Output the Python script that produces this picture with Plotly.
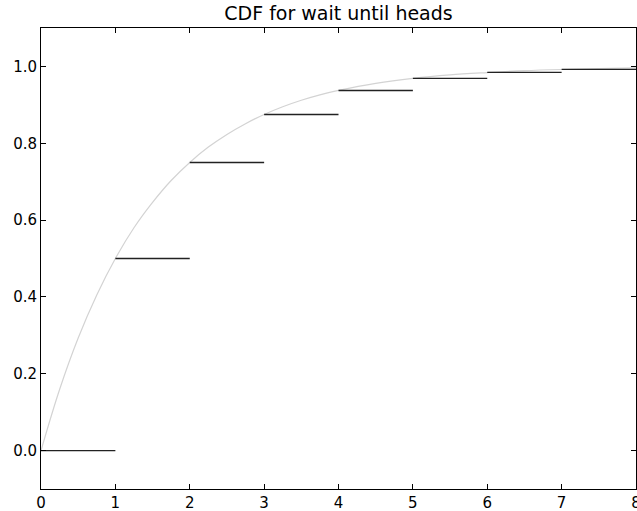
import plotly.graph_objects as go

# Step CDF (discrete) values
step_left = [0, 1, 2, 3, 4, 5, 6, 7]
step_right = [1, 2, 3, 4, 5, 6, 7, 8]
step_values = [0.0, 0.5, 0.75, 0.875, 0.9375, 0.96875, 0.984375, 0.9921875]

# Continuous curve
curve_x = [0, 0.25, 0.5, 0.75, 1, 1.25, 1.5, 1.75, 2, 2.25, 2.5, 2.75, 3, 3.25, 3.5, 3.75,
           4, 4.5, 5, 5.5, 6, 6.5, 7, 7.5, 8]
curve_y = [0.0, 0.159, 0.293, 0.405, 0.5, 0.580, 0.646, 0.703, 0.75, 0.790, 0.823, 0.851,
           0.875, 0.895, 0.912, 0.926, 0.9375, 0.956, 0.969, 0.978, 0.984, 0.989, 0.992,
           0.994, 0.996]

x_ticks = [0, 1, 2, 3, 4, 5, 6, 7, 8]
y_ticks = [0.0, 0.2, 0.4, 0.6, 0.8, 1.0]
y_tick_labels = ["0.0", "0.2", "0.4", "0.6", "0.8", "1.0"]

seg_x, seg_y = [], []
for a, b, v in zip(step_left, step_right, step_values):
    seg_x += [a, b, None]
    seg_y += [v, v, None]

fig = go.Figure()
fig.add_trace(go.Scatter(x=curve_x, y=curve_y, mode="lines",
                         line=dict(color="#d3d3d3", width=1.2, shape="spline"),
                         hoverinfo="skip", showlegend=False))
fig.add_trace(go.Scatter(x=seg_x, y=seg_y, mode="lines",
                         line=dict(color="#222222", width=1.4),
                         showlegend=False))

axis_common = dict(showgrid=False, zeroline=False, showline=True, linecolor="black",
                   linewidth=1, mirror="allticks", ticks="inside", ticklen=5,
                   tickcolor="black", tickwidth=1, ticklabeloverflow="allow",
                   automargin=False,
                   tickfont=dict(family="DejaVu Sans", size=15, color="black"))

fig.update_layout(
    width=637, height=511,
    margin=dict(l=41, r=1, t=28, b=22),
    paper_bgcolor="white", plot_bgcolor="white",
    title=dict(text="CDF for wait until heads", x=0.5, xref="paper",
               y=1 - 13 / 511, yref="container", yanchor="middle",
               font=dict(family="DejaVu Sans", size=19, color="black")),
    xaxis=dict(range=[0, 8], tickvals=x_ticks, ticktext=[str(t) for t in x_ticks], **axis_common),
    yaxis=dict(range=[-0.1, 1.1], tickvals=y_ticks, ticktext=y_tick_labels, **axis_common),
)

fig.write_html("out.html")
